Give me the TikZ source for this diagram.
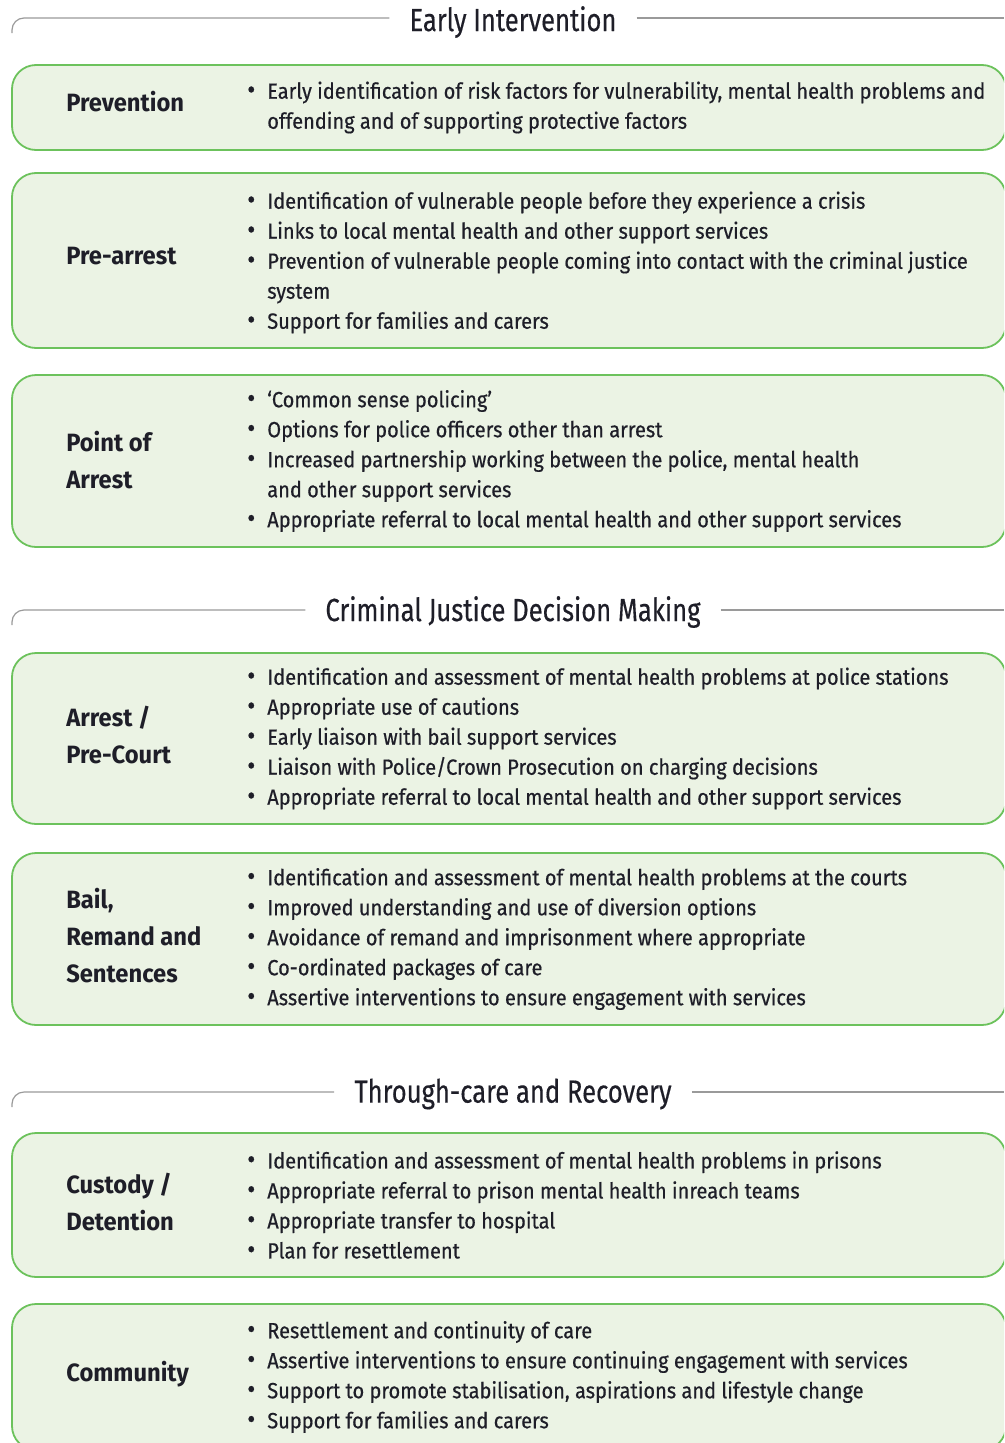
\documentclass[tikz,border=0pt]{standalone}
\usepackage{fontspec}
\setmainfont{Fira Sans}[FakeStretch=0.91, FakeBold=0.5]
\newfontfamily\labelfont{Fira Sans}[FakeStretch=0.95]
\newfontfamily\titlefont{Fira Sans}[FakeStretch=0.8, FakeBold=0.4]
\usepackage{tikz}
\usetikzlibrary{positioning}

\definecolor{boxfill}{HTML}{EBF3E4}
\definecolor{boxline}{HTML}{6CC25C}
\definecolor{headgrey}{HTML}{9A9A9A}
\definecolor{inktext}{HTML}{1E1E28}

\newcommand{\bitem}[1]{\makebox[20pt][l]{\fontsize{27}{30}\selectfont\textbullet}#1}
\newcommand{\bcont}[1]{\hspace*{20pt}#1}

\begin{document}
\begin{tikzpicture}[x=1pt, y=1pt,
stagebox/.style={rectangle, rounded corners=24pt, draw=boxline, fill=boxfill, line width=1.8pt, minimum width=994pt},
stagelabel/.style={anchor=west, align=left, inner sep=0pt, text=inktext, font=\labelfont\fontsize{25}{37}\selectfont\bfseries},
pointlist/.style={anchor=west, align=left, inner sep=0pt, text=inktext, font=\fontsize{22}{30}\selectfont},
headtitle/.style={inner xsep=20pt, inner ysep=0pt, text=inktext, font=\titlefont\fontsize{32}{34}\selectfont},
headline/.style={draw=headgrey, line width=1.2pt}]
\useasboundingbox (0,0) rectangle (1004,-1443);
\clip (0,0) rectangle (1004,-1443);
\coordinate (rightedge) at (1004,0);

% headings
\node[headtitle] (early) at (513,-22) {Early Intervention};
\node[headtitle] (cjdm) at (513,-612) {Criminal Justice Decision Making};
\node[headtitle] (through) at (513,-1094) {Through-care and Recovery};

\draw[headline, rounded corners=12pt] (12,-33) |- ([yshift=4pt]early.west);
\draw[headline] ([yshift=4pt]early.east) -- ([yshift=4pt]early.east -| rightedge);
\draw[headline, rounded corners=12pt] (12,-625) |- ([yshift=2pt]cjdm.west);
\draw[headline] ([yshift=2pt]cjdm.east) -- ([yshift=2pt]cjdm.east -| rightedge);
\draw[headline, rounded corners=12pt] (12,-1107) |- ([yshift=2pt]through.west);
\draw[headline] ([yshift=2pt]through.east) -- ([yshift=2pt]through.east -| rightedge);

% boxes
\node[stagebox, minimum height=85pt] (prev) at (509,-107.5) {};
\node[stagebox, minimum height=175pt] (prearr) at (509,-260.5) {};
\node[stagebox, minimum height=172pt] (poa) at (509,-461) {};
\node[stagebox, minimum height=171pt] (arrest) at (509,-738.5) {};
\node[stagebox, minimum height=172pt] (bail) at (509,-939) {};
\node[stagebox, minimum height=144pt] (custody) at (509,-1205) {};
\node[stagebox, minimum height=146pt] (comm) at (509,-1377) {};

% stage names
\node[stagelabel] (prevl) at ([xshift=55pt, yshift=6pt]prev.west) {Prevention};
\node[stagelabel] (prearrl) at ([xshift=55pt, yshift=4pt]prearr.west) {Pre-arrest};
\node[stagelabel] (poal) at ([xshift=55pt, yshift=1pt]poa.west) {Point of\\Arrest};
\node[stagelabel] (arrestl) at ([xshift=55pt, yshift=3pt]arrest.west) {Arrest /\\Pre-Court};
\node[stagelabel] (baill) at ([xshift=55pt, yshift=3pt]bail.west) {Bail,\\Remand and\\Sentences};
\node[stagelabel] (custodyl) at ([xshift=55pt, yshift=3pt]custody.west) {Custody /\\Detention};
\node[stagelabel] (comml) at ([xshift=55pt, yshift=3pt]comm.west) {Community};

% points
\node[pointlist] (prevp) at ([xshift=236pt]prev.west) {\bitem{Early identification of risk factors for vulnerability, mental health problems and}\\
\bcont{offending and of supporting protective factors}};
\node[pointlist] (prearrp) at ([xshift=236pt, yshift=-2pt]prearr.west) {\bitem{Identification of vulnerable people before they experience a crisis}\\
\bitem{Links to local mental health and other support services}\\
\bitem{Prevention of vulnerable people coming into contact with the criminal justice}\\
\bcont{system}\\
\bitem{Support for families and carers}};
\node[pointlist] (poap) at ([xshift=236pt]poa.west) {\bitem{‘Common sense policing’}\\
\bitem{Options for police officers other than arrest}\\
\bitem{Increased partnership working between the police, mental health}\\
\bcont{and other support services}\\
\bitem{Appropriate referral to local mental health and other support services}};
\node[pointlist] (arrestp) at ([xshift=236pt]arrest.west) {\bitem{Identification and assessment of mental health problems at police stations}\\
\bitem{Appropriate use of cautions}\\
\bitem{Early liaison with bail support services}\\
\bitem{Liaison with Police/Crown Prosecution on charging decisions}\\
\bitem{Appropriate referral to local mental health and other support services}};
\node[pointlist] (bailp) at ([xshift=236pt]bail.west) {\bitem{Identification and assessment of mental health problems at the courts}\\
\bitem{Improved understanding and use of diversion options}\\
\bitem{Avoidance of remand and imprisonment where appropriate}\\
\bitem{Co-ordinated packages of care}\\
\bitem{Assertive interventions to ensure engagement with services}};
\node[pointlist] (custodyp) at ([xshift=236pt]custody.west) {\bitem{Identification and assessment of mental health problems in prisons}\\
\bitem{Appropriate referral to prison mental health inreach teams}\\
\bitem{Appropriate transfer to hospital}\\
\bitem{Plan for resettlement}};
\node[pointlist] (commp) at ([xshift=236pt]comm.west) {\bitem{Resettlement and continuity of care}\\
\bitem{Assertive interventions to ensure continuing engagement with services}\\
\bitem{Support to promote stabilisation, aspirations and lifestyle change}\\
\bitem{Support for families and carers}};
\end{tikzpicture}
\end{document}
